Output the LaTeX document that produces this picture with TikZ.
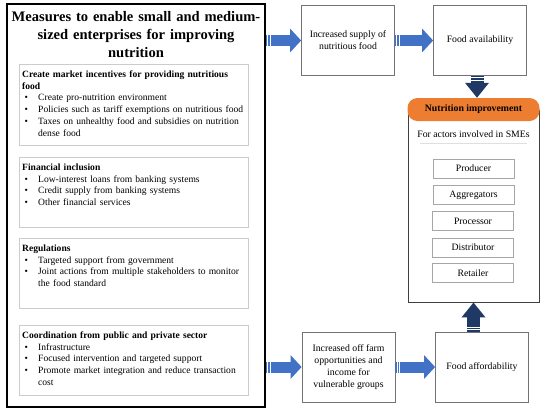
\documentclass[tikz,border=0pt]{standalone}
\usepackage{fontspec}
\setmainfont{Liberation Serif}
\usetikzlibrary{arrows.meta,fit}
\definecolor{arrowblue}{RGB}{66,114,198}
\definecolor{arrownavy}{RGB}{31,56,100}
\definecolor{nutriorange}{RGB}{237,125,49}
\newcommand{\bodyfont}{\fontsize{9.6}{11.8}\selectfont}
\newcommand{\rightfont}{\fontsize{9.8}{12}\selectfont}
\newcommand{\bitem}[1]{\par\hangindent=16bp\hangafter=1\noindent
  \makebox[16bp][l]{\hspace{2.5bp}\textbullet}#1\par}
\tikzset{subbox/.style={draw=gray!40,line width=0.6bp},
  greybox/.style={draw=gray!90!black,line width=0.7bp,align=center,
    font=\rightfont,minimum width=93bp,minimum height=70bp,inner sep=2bp},
  actor/.style={draw=gray!70,line width=0.6bp,font=\rightfont,
    minimum width=81bp,minimum height=19bp,inner sep=0pt},
  subtext/.style={anchor=north west,text width=224bp,inner xsep=3bp,
    inner ysep=6.5bp,align=left,font=\bodyfont},
  bluearrow/.style={arrowblue,line width=11bp,
    dash pattern=on 1.2bp off 1bp on 1.5bp off 1bp on 300bp off 0bp,
    -{Triangle[length=11bp,width=23bp]}},
  navyarrow/.style={arrownavy,line width=13bp,
    dash pattern=on 1.2bp off 1bp on 1.5bp off 1bp on 300bp off 0bp,
    -{Triangle[length=15bp,width=23bp]}}}

\begin{document}
\begin{tikzpicture}[x=1bp,y=-1bp]
	\useasboundingbox (0,0) rectangle (550,414);

	% left column: the measures
	\coordinate (M1) at (7,4);
	\coordinate (M2) at (265,407);
	\node [draw,line width=2bp,fit=(M1)(M2),inner sep=0pt] (measures) {};
	\node [anchor=north,text width=256bp,align=center,inner sep=0pt,
		font=\fontsize{14.6}{18}\selectfont\bfseries] (title) at (136,11)
		{Measures to enable small and medium-\\sized enterprises for improving\\nutrition};

	\draw [subbox] (19,64) rectangle (248,145);
	\draw [subbox] (19,157) rectangle (248,227);
	\draw [subbox] (19,238) rectangle (248,308);
	\draw [subbox] (19,325) rectangle (248,395);

	\node [subtext] (incentives) at (19,64)
		{\noindent\textbf{Create market incentives for providing nutritious food}\par
		\bitem{Create pro-nutrition environment}
		\bitem{Policies such as tariff exemptions on nutritious food}
		\bitem{Taxes on unhealthy food and subsidies on nutrition dense food}};
	\node [subtext] (finance) at (19,157)
		{\noindent\textbf{Financial inclusion}
		\bitem{Low-interest loans from banking systems}
		\bitem{Credit supply from banking systems}
		\bitem{Other financial services}};
	\node [subtext] (regulation) at (19,238)
		{\noindent\textbf{Regulations}
		\bitem{Targeted support from government}
		\bitem{Joint actions from multiple stakeholders to monitor the food standard}};
	\node [subtext] (coordination) at (19,325)
		{\noindent\textbf{Coordination from public and private sector}
		\bitem{Infrastructure}
		\bitem{Focused intervention and targeted support}
		\bitem{Promote market integration and reduce transaction cost}};

	% outcome boxes
	\node [greybox] (supply) at (348,40.5) {Increased supply of\\nutritious food};
	\node [greybox] (avail) at (480,40.5) {Food availability};
	\node [greybox] (income) at (348.5,367) {Increased off farm\\opportunities and\\income for\\vulnerable groups};
	\node [greybox] (afford) at (482,367) {Food affordability};

	% nutrition frame with the actors
	\coordinate (F1) at (408,110);
	\coordinate (F2) at (539,302);
	\node [draw=black!75,line width=0.9bp,fit=(F1)(F2),inner sep=0pt] (frame) {};
	\node [fill=nutriorange,rounded corners=10bp,minimum width=132bp,
		minimum height=23bp,inner sep=0pt,font=\rightfont\bfseries] (nutri) at (473.5,109.5)
		{Nutrition improvement};
	\node [font=\rightfont,inner sep=0pt] (smes) at (473.5,134) {For actors involved in SMEs};
	\draw [gray!25,line width=0.5bp] (420,143) -- (527,143);

	\node [actor] (producer) at (473.5,168.5) {Producer};
	\node [actor] (aggregator) at (473.5,195) {Aggregators};
	\node [actor] (processor) at (473,221) {Processor};
	\node [actor] (distributor) at (473,247.5) {Distributor};
	\node [actor] (retailer) at (473,273) {Retailer};

	% arrows
	\draw [bluearrow] (measures.east |- supply) -- (supply.west);
	\draw [bluearrow] (supply.east) -- (avail.west);
	\draw [bluearrow] (measures.east |- income) -- (income.west);
	\draw [bluearrow] (income.east) -- (afford.west);
	\draw [navyarrow] ([xshift=-3bp]avail.south) -- ([xshift=-3bp]avail.south |- nutri.north);
	\draw [navyarrow] (afford.north -| frame.south) -- (frame.south);

\end{tikzpicture}
\end{document}
